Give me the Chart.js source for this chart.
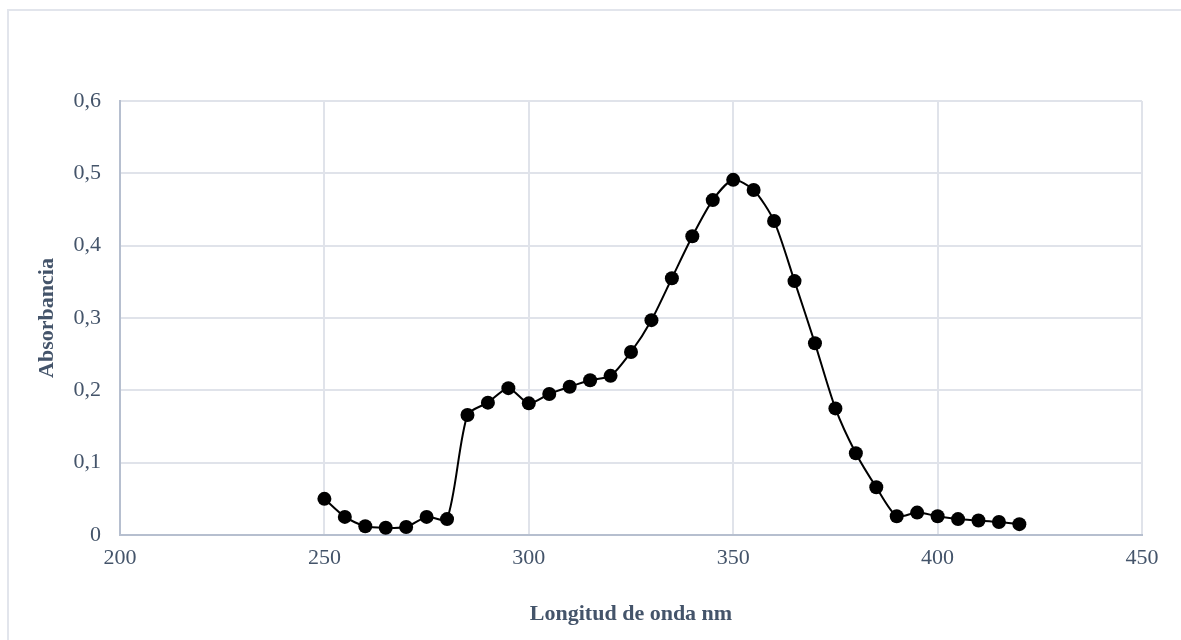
<!DOCTYPE html>
<html>
<head>
<meta charset="utf-8">
<script src="https://cdn.jsdelivr.net/npm/chart.js@4.4.1/dist/chart.umd.min.js"></script>
<style>
  html, body { margin: 0; padding: 0; background: #fff; }
  body { width: 1181px; height: 640px; overflow: hidden; position: relative; }
  #frame { position: absolute; left: 7px; top: 9px; width: 1200px; height: 700px; border: 2px solid #e2e5ec; }
  #wrap { position: absolute; left: 0; top: 0; width: 1181px; height: 640px; }
</style>
</head>
<body>
<div id="frame"></div>
<div id="wrap"><canvas id="chart" width="1181" height="640"></canvas></div>
<script>
// Longitud de onda (nm) y absorbancia
const wavelengths = [250, 255, 260, 265, 270, 275, 280, 285, 290, 295, 300, 305, 310, 315, 320, 325, 330, 335,
    340, 345, 350, 355, 360, 365, 370, 375, 380, 385, 390, 395, 400, 405, 410, 415, 420];
const absorbance = [0.050, 0.025, 0.012, 0.010, 0.011, 0.025, 0.022, 0.166, 0.183, 0.203, 0.182, 0.195, 0.205, 0.214, 0.220, 0.253, 0.297, 0.355,
    0.413, 0.463, 0.491, 0.477, 0.434, 0.351, 0.265, 0.175, 0.113, 0.066, 0.026, 0.031, 0.026, 0.022, 0.020, 0.018, 0.015];

const xLabel = 'Longitud de onda nm';
const yLabel = 'Absorbancia';

const textColor = '#44546a';
const gridColor = '#e0e3ea';
const axisColor = '#b6bfcf';

const points = wavelengths.map((w, i) => ({ x: w, y: absorbance[i] }));

const ctx = document.getElementById('chart').getContext('2d');
new Chart(ctx, {
    type: 'line',
    data: {
        datasets: [{
            label: yLabel,
            data: points,
            borderColor: '#000',
            backgroundColor: '#000',
            borderWidth: 2,
            pointRadius: 7,
            pointHoverRadius: 7,
            pointBackgroundColor: '#000',
            pointBorderWidth: 0,
            tension: 0.25,
            fill: false
        }]
    },
    options: {
        responsive: false,
        animation: false,
        layout: { padding: { top: 101, right: 39, left: 0, bottom: 0 } },
        plugins: { legend: { display: false }, tooltip: { enabled: false } },
        scales: {
            x: {
                type: 'linear',
                min: 200,
                max: 450,
                afterFit: s => { s.height = 105; },
                ticks: { stepSize: 50, padding: 10, color: textColor, font: { family: 'Liberation Serif', size: 22 } },
                grid: { color: gridColor, lineWidth: 2, drawTicks: false },
                border: { color: axisColor, width: 2 },
                title: { display: true, text: xLabel, color: textColor, padding: { bottom: 12 },
                    font: { family: 'Liberation Serif', size: 22, weight: 'bold' } }
            },
            y: {
                min: 0,
                max: 0.6,
                afterFit: s => { s.width = 120; },
                ticks: {
                    stepSize: 0.1, padding: 19, color: textColor,
                    font: { family: 'Liberation Serif', size: 22 },
                    callback: v => v === 0 ? '0' : v.toFixed(1).replace('.', ',')
                },
                grid: { color: gridColor, lineWidth: 2, drawTicks: false },
                border: { color: axisColor, width: 2 },
                title: { display: true, text: yLabel, color: textColor, padding: { top: 34 },
                    font: { family: 'Liberation Serif', size: 22, weight: 'bold' } }
            }
        }
    }
});
</script>
</body>
</html>
